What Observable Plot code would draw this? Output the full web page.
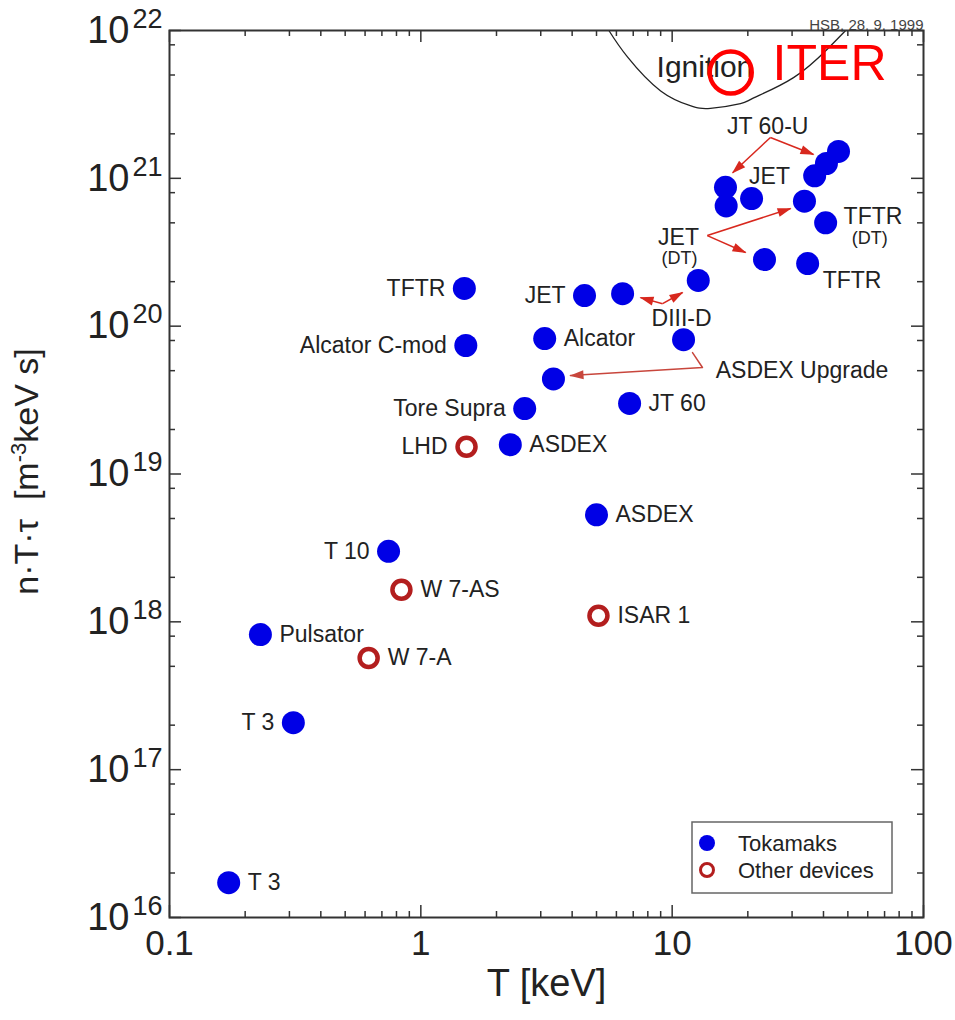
<!DOCTYPE html>
<html>
<head>
<meta charset="utf-8">
<script src="https://cdn.jsdelivr.net/npm/d3@7"></script>
<script src="https://cdn.jsdelivr.net/npm/@observablehq/plot@0.6"></script>
<style>
  html, body { margin: 0; padding: 0; background: #fff; }
</style>
</head>
<body>
<div id="chart"></div>
<script>
// ---------------- data ----------------
// Tokamaks (filled blue): temperature T [keV] and triple product n·T·τ [m^-3 keV s]
const tokamakLabels = ["T 3", "T 3", "Pulsator", "T 10", "ASDEX", "ASDEX", "Tore Supra", "JT 60", "",
  "Alcator C-mod", "Alcator", "", "TFTR", "JET", "", "", "", "", "", "", "", "", "", "", "", ""];
const tokamakLabelSides = ["right", "left", "right", "left", "right", "right", "left", "right", "",
  "left", "right", "", "left", "left", "", "", "", "", "", "", "", "", "", "", "", ""];
const tokamakT = [0.172, 0.311, 0.230, 0.744, 5.0, 2.27, 2.59, 6.77, 3.37,
  1.51, 3.11, 11.1, 1.49, 4.48, 6.35, 12.7, 23.3, 34.6, 40.8, 33.6, 16.3, 16.4, 20.7, 36.9, 41.1, 45.9];
const tokamakNTtau = [1.72e16, 2.08e17, 8.2e17, 3.0e18, 5.3e18, 1.58e19, 2.77e19, 3.0e19, 4.4e19,
  7.4e19, 8.25e19, 8.1e19, 1.8e20, 1.61e20, 1.66e20, 2.04e20, 2.82e20, 2.65e20, 5.0e20, 7.0e20,
  8.7e20, 6.5e20, 7.3e20, 1.04e21, 1.26e21, 1.52e21];

// Other devices (open red rings)
const otherLabels = ["LHD", "W 7-AS", "W 7-A", "ISAR 1"];
const otherLabelSides = ["left", "right", "right", "right"];
const otherT = [1.52, 0.837, 0.62, 5.09];
const otherNTtau = [1.53e19, 1.65e18, 5.7e17, 1.10e18];

// ITER
const iterLabel = ["ITER"];
const iterT = [17.1];
const iterNTtau = [5.2e21];
const iterLabelT = [25.1];
const iterLabelNTtau = [5.95e21];

// Ignition boundary
const ignitionLabel = ["Ignition"];
const ignitionLabelT = [13.5];
const ignitionLabelNTtau = [5.62e21];
const ignitionT = [5.6, 6.65, 9.0, 11.8, 14.2, 18.7, 21.1, 30.4, 41.5, 49.0];
const ignitionNTtau = [1.0e22, 6.6e21, 3.9e21, 3.1e21, 2.97e21, 3.2e21, 3.5e21, 4.8e21, 7.5e21, 1.0e22];

// Free annotations
const noteTexts = ["JT 60-U", "JET", "JET", "DIII-D", "ASDEX Upgrade", "TFTR", "TFTR"];
const noteAlign = ["middle", "middle", "middle", "middle", "start", "start", "start"];
const noteT = [24.0, 24.4, 10.6, 10.9, 14.9, 48.1, 39.7];
const noteNTtau = [2.24e21, 1.03e21, 4.0e20, 1.12e20, 5.0e19, 5.52e20, 2.04e20];
const smallNoteTexts = ["(DT)", "(DT)"];
const smallNoteT = [10.7, 61.1];
const smallNoteNTtau = [2.9e20, 3.91e20];

// Annotation arrows
const arrowFromT = [24.6, 24.6, 13.8, 13.8, 9.16, 9.16];
const arrowFromNTtau = [1.89e21, 1.89e21, 4.1e20, 4.1e20, 1.42e20, 1.42e20];
const arrowToT = [17.4, 36.5, 29.6, 19.6, 7.48, 11.0];
const arrowToNTtau = [1.09e21, 1.45e21, 6.25e20, 3.15e20, 1.56e20, 1.69e20];
const asdexUpgradeLineT = [12.05, 13.2, 3.94];
const asdexUpgradeLineNTtau = [6.63e19, 5.25e19, 4.63e19];

// Axes
const xMajorTicks = [0.1, 1, 10, 100];
const xMinorTicks = [0.2, 0.3, 0.4, 0.5, 0.6, 0.7, 0.8, 0.9, 2, 3, 4, 5, 6, 7, 8, 9, 20, 30, 40, 50, 60, 70, 80, 90];
const yMajorTicks = [1e16, 1e17, 1e18, 1e19, 1e20, 1e21, 1e22];
const yMinorTicks = [2e16, 5e16, 8e16, 2e17, 5e17, 8e17, 2e18, 5e18, 8e18, 2e19, 5e19, 8e19,
  2e20, 5e20, 8e20, 2e21, 5e21, 8e21];
const xTitle = "T [keV]";
const yTitleParts = ["n·T·τ\u00a0\u00a0[m", "-3", "keV s]"];
const legendLabels = ["Tokamaks", "Other devices"];
const stampText = ["HSB, 28. 9. 1999"];

// ---------------- build ----------------
const W = 955, H = 1020;
const mL = 169, mR = 32, mT = 30, mB = 103;
const FW = W - mL - mR, FH = H - mT - mB;   // frame size in pixels
const BLUE = "#0000e6", RING = "#b31e1e", ARROW = "#d8281e", INK = "#222";
const FONT = "'Liberation Sans', Arial, sans-serif";

const tokamaks = tokamakT.map((T, i) => ({T, v: tokamakNTtau[i], label: tokamakLabels[i], side: tokamakLabelSides[i]}));
const others = otherT.map((T, i) => ({T, v: otherNTtau[i], label: otherLabels[i], side: otherLabelSides[i]}));
const labelled = [...tokamaks, ...others].filter(d => d.label);
const ignition = ignitionT.map((T, i) => ({T, v: ignitionNTtau[i]}));
const arrows = arrowFromT.map((T, i) => ({x1: T, y1: arrowFromNTtau[i], x2: arrowToT[i], y2: arrowToNTtau[i]}));
const asdexLine = asdexUpgradeLineT.map((T, i) => ({T, v: asdexUpgradeLineNTtau[i]}));
const notes = noteTexts.map((t, i) => ({t, T: noteT[i], v: noteNTtau[i], a: noteAlign[i]}));
const smallNotes = smallNoteTexts.map((t, i) => ({t, T: smallNoteT[i], v: smallNoteNTtau[i]}));
const iter = iterT.map((T, i) => ({T, v: iterNTtau[i]}));
const iterText = iterLabel.map((t, i) => ({t, T: iterLabelT[i], v: iterLabelNTtau[i]}));
const ignText = ignitionLabel.map((t, i) => ({t, T: ignitionLabelT[i], v: ignitionLabelNTtau[i]}));

// inward tick marks: rules spanning the frame, inset so only a short stub remains at the edge
const MAJ = 12, MIN = 6;
const tickStyle = {stroke: "#333", strokeWidth: 1.5};
const tickMarks = [
  Plot.ruleX(xMajorTicks, {x: d => d, insetTop: FH - MAJ, ...tickStyle}),
  Plot.ruleX(xMajorTicks, {x: d => d, insetBottom: FH - MAJ, ...tickStyle}),
  Plot.ruleX(xMinorTicks, {x: d => d, insetTop: FH - MIN, ...tickStyle}),
  Plot.ruleX(xMinorTicks, {x: d => d, insetBottom: FH - MIN, ...tickStyle}),
  Plot.ruleY(yMajorTicks, {y: d => d, insetRight: FW - MAJ, ...tickStyle}),
  Plot.ruleY(yMajorTicks, {y: d => d, insetLeft: FW - MAJ, ...tickStyle}),
  Plot.ruleY(yMinorTicks, {y: d => d, insetRight: FW - MIN, ...tickStyle}),
  Plot.ruleY(yMinorTicks, {y: d => d, insetLeft: FW - MIN, ...tickStyle})
];

const chart = Plot.plot({
  width: W, height: H,
  marginLeft: mL, marginRight: mR, marginTop: mT, marginBottom: mB,
  style: {fontFamily: FONT, background: "#fff", color: INK, overflow: "visible"},
  x: {type: "log", domain: [0.1, 100]},
  y: {type: "log", domain: [1e16, 1e22]},
  marks: [
    // ignition region
    Plot.line(ignition, {x: "T", y: "v", curve: "natural", stroke: "#222", strokeWidth: 1.3, clip: true}),
    Plot.text(ignText, {x: "T", y: "v", text: "t", fontSize: 30, fill: INK}),
    // annotation texts
    Plot.text(notes.filter(d => d.a === "middle"), {x: "T", y: "v", text: "t", fontSize: 23, fill: INK}),
    Plot.text(notes.filter(d => d.a === "start"), {x: "T", y: "v", text: "t", fontSize: 23, fill: INK, textAnchor: "start"}),
    Plot.text(smallNotes, {x: "T", y: "v", text: "t", fontSize: 18, fill: INK}),
    // arrows
    Plot.line(asdexLine, {x: "T", y: "v", stroke: "#c8463c", strokeWidth: 1.5, markerEnd: "arrow"}),
    Plot.link(arrows, {x1: "x1", y1: "y1", x2: "x2", y2: "y2", stroke: ARROW, strokeWidth: 1.5, markerEnd: "arrow"}),
    // data points
    Plot.dot(tokamaks, {x: "T", y: "v", r: 11.5, fill: BLUE}),
    Plot.dot(others, {x: "T", y: "v", r: 9, fill: "#fff", stroke: RING, strokeWidth: 4.5}),
    Plot.dot(iter, {x: "T", y: "v", r: 21, fill: "none", stroke: "#ff0000", strokeWidth: 4.5}),
    Plot.text(iterText, {x: "T", y: "v", text: "t", fontSize: 50, fill: "#ff0000", textAnchor: "start"}),
    // point labels
    Plot.text(labelled.filter(d => d.side === "right"), {x: "T", y: "v", text: "label", dx: 19, textAnchor: "start", fontSize: 23, fill: INK}),
    Plot.text(labelled.filter(d => d.side === "left"), {x: "T", y: "v", text: "label", dx: -19, textAnchor: "end", fontSize: 23, fill: INK}),
    // stamp
    Plot.text(stampText, {frameAnchor: "top-right", text: d => d, dy: -11, textAnchor: "end", fontSize: 15, fill: "#444"}),
    // axis title
    Plot.text([xTitle], {frameAnchor: "bottom", text: d => d, dy: 78, fontSize: 38, fill: INK}),
    // ticks and frame
    ...tickMarks,
    Plot.frame({stroke: "#333", strokeWidth: 2}),
    // tick labels
    Plot.axisX({anchor: "bottom", ticks: xMajorTicks, tickSize: 0, tickPadding: 13, tickFormat: d => String(d),
      fontSize: 35, fill: INK, label: null}),
    Plot.axisY({anchor: "left", ticks: yMajorTicks, tickSize: 0, tickPadding: 7,
      tickFormat: d => "10^" + Math.round(Math.log10(d)), fontSize: 38, fill: INK, label: null})
  ]
});
document.getElementById("chart").appendChild(chart);

// ---------------- post-processing ----------------
const svg = d3.select(chart);

// exponent superscripts on y tick labels
svg.selectAll('g[aria-label="y-axis tick label"] text').each(function () {
  const t = d3.select(this);
  const [base, exp] = t.text().split("^");
  if (exp === undefined) return;
  t.text(null);
  t.append("tspan").text(base);
  t.append("tspan").attr("dx", 3).attr("dy", -15).attr("font-size", 27).text(exp);
});

// filled arrow heads
svg.selectAll("marker").each(function () {
  const m = d3.select(this);
  const color = m.attr("stroke") || ARROW;
  m.attr("viewBox", "-14 -5 16 10").attr("markerWidth", 16).attr("markerHeight", 10)
    .attr("markerUnits", "userSpaceOnUse").attr("fill", color).attr("stroke", "none");
  m.selectAll("*").remove();
  m.append("path").attr("d", "M-13,-4.5L1,0L-13,4.5Z");
});

// y-axis title with superscript
const yt = svg.append("text")
  .attr("transform", `translate(38,${(mT + H - mB) / 2 - 2}) rotate(-90)`)
  .attr("text-anchor", "middle").attr("font-size", 34).attr("fill", INK);
yt.append("tspan").text(yTitleParts[0]);
yt.append("tspan").attr("dy", -12).attr("font-size", 22).text(yTitleParts[1]);
yt.append("tspan").attr("dy", 12).text(yTitleParts[2]);

// legend box inside the frame (bottom right)
const frameRight = W - mR, frameBottom = H - mB;
const lg = svg.append("g").attr("transform", `translate(${frameRight - 231},${frameBottom - 95})`);
lg.append("rect").attr("width", 200).attr("height", 71).attr("fill", "#fff").attr("stroke", "#666").attr("stroke-width", 1.5);
legendLabels.forEach((lab, i) => {
  const cy = 21 + 27 * i;
  if (i === 0) lg.append("circle").attr("cx", 15).attr("cy", cy).attr("r", 8).attr("fill", BLUE);
  else lg.append("circle").attr("cx", 15).attr("cy", cy).attr("r", 6.5).attr("fill", "#fff").attr("stroke", RING).attr("stroke-width", 3);
  lg.append("text").attr("x", 46).attr("y", cy).attr("dy", "0.35em").attr("text-anchor", "start")
    .attr("font-size", 22).attr("fill", INK).text(lab);
});
</script>
</body>
</html>
